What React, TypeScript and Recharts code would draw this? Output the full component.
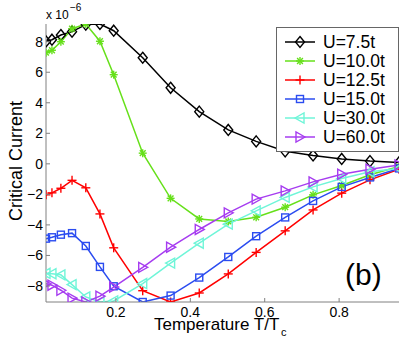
import React from 'react';
import { LineChart, Line, XAxis, YAxis, Legend } from 'recharts';

const temps = [0.012, 0.028, 0.052, 0.082, 0.119, 0.157, 0.194, 0.272, 0.347, 0.424, 0.502, 0.577, 0.655, 0.730, 0.807, 0.883, 0.961];
const u075 = [8.02, 8.13, 8.44, 8.66, 9.12, 9.16, 8.72, 6.95, 4.98, 3.42, 2.22, 1.47, 0.82, 0.55, 0.32, 0.18, 0.09];
const u100 = [7.28, 7.44, 8.0, 8.85, 9.16, 8.03, 5.84, 0.7, -2.26, -3.61, -3.77, -3.5, -2.84, -2.03, -1.42, -0.72, -0.18];
const u125 = [-2.03, -1.9, -1.6, -1.08, -1.57, -3.28, -5.5, -8.31, -9.05, -8.46, -7.21, -5.8, -4.39, -3.02, -1.92, -1.05, -0.35];
const u150 = [-4.9, -4.81, -4.64, -4.54, -5.38, -6.75, -8.02, -9.05, -8.63, -7.45, -6.1, -4.74, -3.51, -2.43, -1.51, -0.89, -0.3];
const u300 = [-7.17, -7.2, -7.27, -7.91, -8.72, -9.05, -8.98, -7.84, -6.5, -5.2, -3.95, -3.08, -2.2, -1.51, -0.96, -0.52, -0.3];
const u600 = [-7.86, -7.95, -8.28, -8.8, -9.05, -8.67, -8.07, -6.78, -5.46, -4.3, -3.21, -2.31, -1.77, -1.18, -0.68, -0.35, -0.08];

const xTicks = [0.2, 0.4, 0.6, 0.8];
const yTicks = [-8, -6, -4, -2, 0, 2, 4, 6, 8];
const xDomain = [0.012, 0.961];
const yDomain = [-9.05, 9.16];

const series = [
  { key: 'u075', name: 'U=7.5t', values: u075, color: '#000000', shape: 'diamond' },
  { key: 'u100', name: 'U=10.0t', values: u100, color: '#66e01a', shape: 'star' },
  { key: 'u125', name: 'U=12.5t', values: u125, color: '#ff0000', shape: 'plus' },
  { key: 'u150', name: 'U=15.0t', values: u150, color: '#2b4cf0', shape: 'square' },
  { key: 'u300', name: 'U=30.0t', values: u300, color: '#6ff5d8', shape: 'tleft' },
  { key: 'u600', name: 'U=60.0t', values: u600, color: '#a63cf0', shape: 'tright' },
];

const data = temps.map((t, i) => {
  const row: any = { t };
  series.forEach((s) => { row[s.key] = s.values[i]; });
  return row;
});

const FONT = "'Liberation Sans', Arial, Helvetica, sans-serif";
const AX = '#808080';

function Marker({ shape, cx, cy, color }: { shape: string; cx: number; cy: number; color: string }) {
  const sw = 1.4;
  if (cx == null || cy == null) return null;
  switch (shape) {
    case 'diamond':
      return <polygon points={`${cx},${cy - 5.5} ${cx + 4.5},${cy} ${cx},${cy + 5.5} ${cx - 4.5},${cy}`} fill="none" stroke={color} strokeWidth={sw} />;
    case 'star': {
      const r = 4, d = 2.9;
      return (
        <g stroke={color} strokeWidth={sw}>
          <line x1={cx - r} y1={cy} x2={cx + r} y2={cy} />
          <line x1={cx} y1={cy - r} x2={cx} y2={cy + r} />
          <line x1={cx - d} y1={cy - d} x2={cx + d} y2={cy + d} />
          <line x1={cx - d} y1={cy + d} x2={cx + d} y2={cy - d} />
        </g>
      );
    }
    case 'plus': {
      const r = 4.5;
      return (
        <g stroke={color} strokeWidth={sw}>
          <line x1={cx - r} y1={cy} x2={cx + r} y2={cy} />
          <line x1={cx} y1={cy - r} x2={cx} y2={cy + r} />
        </g>
      );
    }
    case 'square':
      return <rect x={cx - 3.5} y={cy - 3.5} width={7} height={7} fill="none" stroke={color} strokeWidth={sw} />;
    case 'tleft':
      return <polygon points={`${cx - 5},${cy} ${cx + 4},${cy - 5} ${cx + 4},${cy + 5}`} fill="none" stroke={color} strokeWidth={sw} />;
    case 'tright':
      return <polygon points={`${cx + 5},${cy} ${cx - 4},${cy - 5} ${cx - 4},${cy + 5}`} fill="none" stroke={color} strokeWidth={sw} />;
    default:
      return null;
  }
}

const fmt = (v: number) => (v < 0 ? '\u2212' + Math.abs(v) : String(v));

const LeftTick = (props: any) => {
  const { x, y, payload } = props;
  return (
    <g>
      <line x1={x} x2={x + 4} y1={y} y2={y} stroke={AX} />
      <text x={x - 3} y={y + 5} textAnchor="end" fontSize={14} fontFamily={FONT} fill="#000">{fmt(payload.value)}</text>
    </g>
  );
};
const RightTick = (props: any) => {
  const { x, y } = props;
  return <line x1={x} x2={x - 4} y1={y} y2={y} stroke={AX} />;
};
const BottomTick = (props: any) => {
  const { x, y, payload } = props;
  return (
    <g>
      <line x1={x} x2={x} y1={y} y2={y - 4} stroke={AX} />
      <text x={x} y={y + 15} textAnchor="middle" fontSize={14} fontFamily={FONT} fill="#000">{String(payload.value)}</text>
    </g>
  );
};
const TopTick = (props: any) => {
  const { x, y } = props;
  return <line x1={x} x2={x} y1={y} y2={y + 4} stroke={AX} />;
};

const LegendBox = () => (
  <div style={{ width: 123, height: 125, boxSizing: 'border-box', border: '1px solid #666', background: '#fff' }}>
    <svg width={121} height={123} style={{ display: 'block' }}>
      {series.map((s, i) => {
        const y = 14 + i * 19;
        return (
          <g key={s.key}>
            <line x1={8} x2={38} y1={y} y2={y} stroke={s.color} strokeWidth={1.5} />
            <Marker shape={s.shape} cx={23} cy={y} color={s.color} />
            <text x={46} y={y + 6} fontSize={17.5} fontFamily={FONT} fill="#000">{s.name}</text>
          </g>
        );
      })}
    </svg>
  </div>
);

export default function App() {
  return (
    <div style={{ position: 'absolute', left: 0, top: 0, width: 407, height: 341, background: '#fff' }}>
      <LineChart width={407} height={341} data={data} margin={{ top: 24, right: 8, left: 0, bottom: 0 }}>
        <XAxis dataKey="t" type="number" domain={xDomain} ticks={xTicks} allowDataOverflow height={39}
          tickSize={0} tickMargin={0} tickLine={false} axisLine={{ stroke: AX }} tick={<BottomTick />} />
        <XAxis xAxisId="top" orientation="top" dataKey="t" type="number" domain={xDomain} ticks={xTicks} allowDataOverflow height={0}
          tickSize={0} tickMargin={0} tickLine={false} axisLine={{ stroke: AX }} tick={<TopTick />} />
        <YAxis type="number" domain={yDomain} ticks={yTicks} allowDataOverflow width={46}
          tickSize={0} tickMargin={0} tickLine={false} axisLine={{ stroke: AX }} tick={<LeftTick />} />
        <YAxis yAxisId="right" orientation="right" type="number" domain={yDomain} ticks={yTicks} allowDataOverflow width={0}
          tickSize={0} tickMargin={0} tickLine={false} axisLine={{ stroke: AX }} tick={<RightTick />} />
        {series.map((s) => (
          <Line key={s.key} dataKey={s.key} name={s.name} stroke={s.color} strokeWidth={1.5} isAnimationActive={false}
            type="linear"
            dot={(p: any) => <Marker key={`${s.key}-${p.index}`} shape={s.shape} cx={p.cx} cy={p.cy} color={s.color} />}
            activeDot={false} />
        ))}
        <Legend layout="vertical" align="center" verticalAlign="middle" content={<LegendBox />}
          wrapperStyle={{ position: 'absolute', left: 276, top: 27, width: 123, height: 125 }} />
      </LineChart>
      <svg width={407} height={341} style={{ position: 'absolute', left: 0, top: 0, pointerEvents: 'none' }}>
        <text x={46} y={19} fontSize={12} fontFamily={FONT} fill="#000">x 10</text>
        <text x={70} y={11} fontSize={10} fontFamily={FONT} fill="#000">{'\u22126'}</text>
        <text transform="translate(22,161) rotate(-90)" textAnchor="middle" fontSize={18} fontFamily={FONT} fill="#000">Critical Current</text>
        <text x={154} y={330} fontSize={17} fontFamily={FONT} fill="#000">Temperature T/T</text>
        <text x={281} y={336} fontSize={11} fontFamily={FONT} fill="#000">c</text>
        <text x={345} y={285} fontSize={30} fontFamily={FONT} fill="#000">(b)</text>
      </svg>
    </div>
  );
}
